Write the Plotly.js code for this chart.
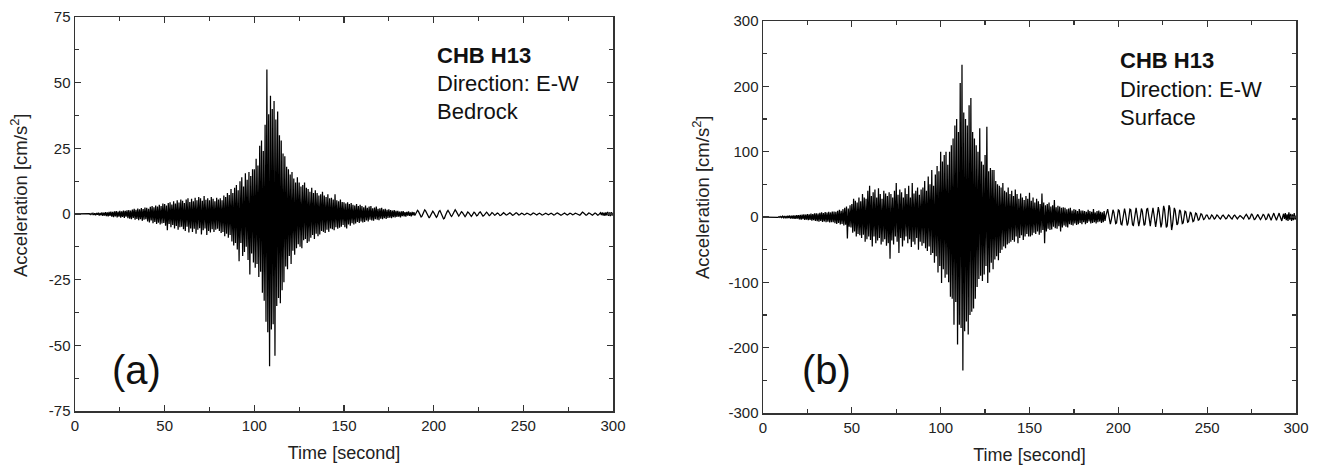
<!DOCTYPE html>
<html>
<head>
<meta charset="utf-8">
<script src="https://cdn.plot.ly/plotly-3.0.1.min.js"></script>
<style>html,body{margin:0;padding:0;background:#fff;}#chart{width:1321px;height:471px;}</style>
</head>
<body>
<div id="chart"></div>
<script>
// Sampling of both records (seconds)
const timeStart = 0;
const timeStep = 0.5;

// (a) Bedrock, E-W acceleration [cm/s^2], every 0.5 s
const accBedrock = [
0,0,0,0,0,0,0,0,0,0,0,0,0.1,-0.1,0.1,-0.1,0.1,-0.2,0.2,-0.2,
0.3,-0.4,0.3,-0.5,0.4,-0.3,0.5,-0.6,0.4,-0.5,0.6,-0.7,0.5,-0.6,0.7,-0.8,0.6,-0.9,0.8,-0.7,
0.9,-1.0,0.8,-1.2,1.0,-0.9,1.1,-1.3,0.9,-1.0,1.2,-1.4,1.0,-1.1,1.3,-1.5,1.2,-1.0,1.4,-1.6,
1.5,-1.8,1.3,-2.0,1.7,-1.5,2.0,-2.2,1.6,-1.9,2.1,-2.4,1.8,-2.0,2.3,-2.6,1.9,-2.2,2.5,-2.0,
2.4,-2.8,2.0,-3.2,2.7,-2.5,3.0,-3.5,2.6,-3.0,3.2,-3.8,2.8,-3.3,3.5,-4.0,3.0,-3.6,4.0,-3.4,
3.8,-4.5,3.2,-6.2,4.2,-3.8,4.5,-5.0,3.6,-4.2,4.8,-5.5,4.0,-4.6,5.2,-6.0,4.4,-5.0,5.5,-4.8,
5.0,-5.8,4.2,-6.5,5.5,-4.8,6.0,-7.0,4.6,-5.5,5.8,-6.8,4.8,-5.6,6.2,-7.5,5.2,-6.0,6.5,-5.4,
6.0,-7.8,5.0,-6.2,6.8,-5.5,5.4,-8.0,6.0,-6.5,5.2,-7.0,6.5,-5.8,5.8,-6.8,4.8,-6.0,6.2,-5.6,
5.5,-6.5,6.0,-7.2,5.2,-6.8,7.0,-8.5,6.5,-7.5,8.0,-9.0,7.2,-8.0,9.5,-10.5,8.0,-12.0,10.0,-11.0,
11.0,-13.5,9.0,-18.0,12.5,-11.0,14.0,-16.0,10.5,-14.5,15.5,-12.5,13.0,-17.5,16.0,-23.0,14.5,-15.0,17.0,-18.5,
17.0,-20.5,21.0,-19.0,18.5,-24.0,26.0,-22.0,28.0,-30.0,24.0,-33.0,34.0,-41.0,55.0,-45.0,38.0,-58.0,45.0,-44.0,
40.0,-42.0,43.0,-54.0,36.0,-35.0,39.0,-32.0,30.0,-34.0,28.0,-29.0,23.0,-26.0,22.0,-20.0,18.0,-21.0,17.0,-16.0,
15.0,-19.0,16.0,-14.0,13.5,-15.5,12.0,-13.0,14.0,-11.5,12.0,-12.5,10.5,-13.0,11.0,-10.0,12.0,-9.5,10.0,-11.0,
9.5,-10.5,8.5,-9.0,10.0,-8.0,8.0,-9.5,9.0,-7.5,8.0,-8.5,7.0,-7.8,7.5,-6.5,8.5,-6.8,7.0,-7.2,
6.5,-6.0,7.5,-6.8,6.0,-5.5,6.2,-5.8,5.5,-6.2,7.5,-5.0,5.2,-5.6,4.8,-5.2,5.5,-4.8,4.6,-4.2,
4.5,-5.0,4.0,-5.5,4.5,-4.0,3.8,-4.5,4.2,-3.5,3.5,-4.0,3.2,-3.6,3.8,-3.0,3.0,-3.4,3.5,-2.8,
3.0,-3.2,2.6,-3.0,3.2,-2.5,2.4,-2.8,2.8,-2.2,3.0,-2.5,2.2,-2.6,2.5,-2.0,2.8,-2.2,2.0,-2.4,
2.2,-1.8,2.4,-2.0,1.8,-1.6,2.0,-1.9,1.6,-1.5,1.8,-1.4,1.5,-1.6,1.3,-1.2,1.5,-1.3,1.2,-1.1,
1.2,-1.0,0.9,-1.3,1.0,-0.8,1.1,-0.9,0.7,-1.0,0.8,-0.6,1.0,-0.7,0.6,-0.9,0.8,-0.5,0.7,-0.6,
0.2,0.8,1.4,1.0,0.3,-0.6,-1.1,-0.8,0.1,0.9,1.6,1.2,0.4,-0.5,-1.2,-1.5,-0.9,0.0,0.7,1.1,
0.6,-0.2,-0.9,-1.3,-0.8,0.2,1.0,1.3,0.7,-0.3,-1.0,-1.8,-1.6,-0.7,0.3,0.9,1.4,1.0,0.2,-0.5,
-0.9,-0.4,0.5,1.2,1.6,1.1,0.3,-0.4,-0.8,-0.3,0.4,0.9,0.6,-0.1,-0.7,-1.0,-0.5,0.3,0.8,0.5,
-0.1,-0.6,-0.9,-0.4,0.3,0.7,0.4,-0.2,-0.7,-0.5,0.2,0.6,0.8,0.3,-0.3,-0.8,-0.6,0.0,0.5,0.7,
0.3,-0.2,-0.6,-0.4,0.1,0.5,0.3,-0.2,-0.5,-0.3,0.2,0.4,0.2,-0.3,-0.6,-0.5,-0.1,0.3,0.5,0.2,
-0.2,-0.4,-0.3,0.1,0.4,0.5,0.2,-0.3,-0.5,-0.4,0.0,0.3,0.5,0.3,-0.1,-0.4,-0.3,0.1,0.3,0.2,
-0.1,-0.3,-0.2,0.1,0.3,0.2,-0.1,-0.3,-0.4,-0.2,0.2,0.4,0.3,0.0,-0.3,-0.4,-0.1,0.2,0.3,0.1,
-0.2,-0.4,-0.3,0.0,0.2,0.3,0.1,-0.2,-0.3,-0.1,0.2,0.3,0.1,-0.2,-0.4,-0.3,0.1,0.3,0.4,0.2,
-0.1,-0.3,-0.5,-0.3,0.0,0.3,0.4,0.1,-0.2,-0.4,-0.2,0.1,0.3,0.2,-0.1,-0.3,-0.2,0.1,0.3,0.2,
0.0,-0.3,-0.6,-0.5,-0.1,0.4,0.7,0.5,0.1,-0.3,-0.5,-0.3,0.1,0.4,0.3,-0.1,-0.4,-0.5,-0.2,0.2,
0.4,0.2,-0.2,-0.5,-0.3,0.2,0.5,-0.4,0.6,-0.6,0.5,-0.7,0.6,-0.5,0.8,-0.7,0.6,-0.8,0.7,-0.6,
0.5
];

// (b) Surface, E-W acceleration [cm/s^2], every 0.5 s
const accSurface = [
0,0,0,0,0,0,0,0,0,0,0,0,0.3,-0.3,0.4,-0.4,0.5,-0.6,0.6,-0.7,
0.8,-1.0,1.2,-1.0,1.5,-1.8,1.4,-2.0,1.8,-1.5,2.2,-2.5,2.0,-2.3,2.6,-2.8,2.4,-3.0,2.8,-2.6,
3.0,-3.5,3.2,-4.0,3.8,-3.4,4.2,-4.6,3.6,-4.0,4.5,-5.0,4.0,-4.4,5.2,-5.5,4.6,-5.0,5.5,-6.0,
5.8,-6.5,5.2,-7.0,6.5,-6.0,7.2,-7.5,6.0,-6.8,7.5,-8.0,6.8,-7.2,8.0,-8.5,7.0,-7.8,8.5,-8.0,
8.5,-9.5,8.0,-10.5,9.5,-9.0,11.0,-11.5,9.5,-10.5,12.0,-13.0,14.0,-12.0,16.0,-33.0,13.0,-15.0,18.0,-16.0,
20.0,-24.0,28.0,-22.0,25.0,-30.0,22.0,-26.0,30.0,-28.0,24.0,-32.0,35.0,-27.0,30.0,-38.0,28.0,-34.0,40.0,-30.0,
48.0,-35.0,32.0,-45.0,38.0,-30.0,42.0,-40.0,30.0,-36.0,44.0,-32.0,35.0,-42.0,28.0,-38.0,40.0,-34.0,36.0,-44.0,
32.0,-40.0,38.0,-64.0,35.0,-36.0,30.0,-42.0,40.0,-30.0,52.0,-38.0,34.0,-55.0,42.0,-32.0,38.0,-45.0,30.0,-36.0,
44.0,-30.0,35.0,-40.0,48.0,-34.0,30.0,-46.0,52.0,-38.0,36.0,-42.0,40.0,-32.0,45.0,-50.0,34.0,-38.0,42.0,-44.0,
45.0,-40.0,55.0,-48.0,40.0,-52.0,62.0,-45.0,50.0,-58.0,72.0,-55.0,48.0,-70.0,65.0,-60.0,78.0,-85.0,70.0,-75.0,
100.0,-101.0,85.0,-80.0,95.0,-93.0,100.0,-88.0,80.0,-100.0,100.0,-122.0,110.0,-125.0,120.0,-165.0,140.0,-130.0,150.0,-195.0,
130.0,-165.0,205.0,-170.0,233.0,-235.0,160.0,-175.0,150.0,-160.0,140.0,-180.0,171.0,-150.0,182.0,-145.0,130.0,-140.0,120.0,-125.0,
110.0,-107.0,100.0,-95.0,136.0,-90.0,85.0,-98.0,80.0,-88.0,95.0,-75.0,138.0,-101.0,70.0,-85.0,75.0,-70.0,72.0,-80.0,
72.0,-65.0,55.0,-60.0,50.0,-66.0,48.0,-55.0,45.0,-50.0,52.0,-45.0,40.0,-48.0,38.0,-42.0,45.0,-40.0,35.0,-38.0,
40.0,-35.0,32.0,-38.0,42.0,-30.0,35.0,-40.0,28.0,-32.0,36.0,-28.0,30.0,-35.0,26.0,-30.0,32.0,-26.0,28.0,-30.0,
37.0,-30.0,25.0,-28.0,30.0,-24.0,22.0,-26.0,28.0,-22.0,24.0,-27.0,20.0,-24.0,36.0,-20.0,22.0,-40.0,18.0,-22.0,
20.0,-18.0,22.0,-20.0,16.0,-19.0,18.0,-15.0,26.0,-17.0,15.0,-18.0,17.0,-14.0,16.0,-22.0,14.0,-16.0,15.0,-13.0,
14.0,-15.0,12.0,-16.0,13.0,-11.0,14.0,-12.0,10.0,-13.0,12.0,-10.0,11.0,-12.0,9.0,-11.0,12.0,-9.0,10.0,-11.0,
10.0,-8.0,9.0,-11.0,8.0,-9.0,11.0,-7.0,9.0,-10.0,8.0,-9.0,12.0,-8.0,7.0,-10.0,9.0,-8.0,10.0,-7.0,
8.0,-9.0,7.0,-8.0,9.0,-6.0,2.0,10.0,12.0,4.0,-8.0,-11.0,-5.0,6.0,11.0,7.0,-4.0,-10.0,-9.0,2.0,
11.0,10.0,-2.0,-11.0,-12.0,-3.0,9.0,13.0,6.0,-6.0,-13.0,-9.0,3.0,12.0,11.0,-1.0,-12.0,-13.0,-2.0,10.0,
14.0,5.0,-8.0,-14.0,-7.0,6.0,13.0,9.0,-4.0,-13.0,-11.0,2.0,12.0,13.0,1.0,-12.0,-14.0,-3.0,10.0,14.0,
5.0,-9.0,-15.0,-6.0,8.0,15.0,8.0,-7.0,-16.0,-10.0,5.0,17.0,12.0,-4.0,-16.0,-14.0,2.0,18.0,14.0,-5.0,
-20.0,-12.0,4.0,14.0,10.0,-3.0,-12.0,-10.0,2.0,11.0,9.0,-2.0,-10.0,-9.0,1.0,9.0,8.0,-2.0,-8.0,-7.0,
1.0,7.0,6.0,-1.0,-7.0,-6.0,0.0,6.0,5.0,-1.0,-5.0,-4.0,1.0,5.0,4.0,-1.0,-4.0,-3.0,1.0,3.0,
3.0,0.0,-3.0,-3.0,0.0,3.0,2.0,-1.0,-3.0,-2.0,1.0,3.0,2.0,-1.0,-2.0,-3.0,0.0,2.0,3.0,1.0,
-1.0,-3.0,-2.0,1.0,3.0,2.0,-1.0,-2.0,-3.0,0.0,2.0,3.0,1.0,-2.0,-3.0,-1.0,1.0,2.0,1.0,-1.0,
-2.0,-3.0,0.0,2.0,4.0,2.0,-1.0,-3.0,-2.0,1.0,5.0,3.0,-1.0,-4.0,-3.0,0.0,3.0,4.0,1.0,-2.0,
-4.0,-2.0,1.0,4.0,3.0,-1.0,-4.0,-3.0,1.0,5.0,2.0,-2.0,-5.0,-1.0,3.0,6.0,2.0,-3.0,-5.0,-1.0,
4.0,6.0,1.0,-4.0,-6.0,0.0,5.0,-3.0,6.0,-5.0,4.0,-6.0,7.0,-4.0,5.0,-6.0,4.0,-5.0,6.0,-4.0,
2.0
];

// Tick positions and labels (hyphen minus as in the original)
const timeTicks = [0, 50, 100, 150, 200, 250, 300];
const timeTickLabels = ["0", "50", "100", "150", "200", "250", "300"];
const accTicksA = [-75, -50, -25, 0, 25, 50, 75];
const accTickLabelsA = ["-75", "-50", "-25", "0", "25", "50", "75"];
const accTicksB = [-300, -200, -100, 0, 100, 200, 300];
const accTickLabelsB = ["-300", "-200", "-100", "0", "100", "200", "300"];

// Text labels
const stationLabel = "CHB H13";
const directionLabel = "Direction: E-W";
const siteLabels = ["Bedrock", "Surface"];
const panelLabels = ["(a)", "(b)"];
const xTitle = "Time [second]";
const yTitle = "Acceleration [cm/s<sup>2</sup>]";

const FONT = "Arial, 'Liberation Sans', Helvetica, sans-serif";
const AX = "#333";

function xAxis(domain, anchor) {
  return {
    domain: domain, anchor: anchor, range: [0, 300],
    tickmode: "array", tickvals: timeTicks, ticktext: timeTickLabels,
    ticks: "inside", ticklen: 6, tickwidth: 1.3, tickcolor: AX,
    minor: {tick0: 0, dtick: 25, ticks: "inside", ticklen: 4, tickwidth: 1.2, tickcolor: AX},
    showline: true, linecolor: AX, linewidth: 1.5, mirror: "ticks",
    showgrid: false, zeroline: false,
    tickfont: {family: FONT, size: 15, color: "#222"},
    title: {text: xTitle, font: {family: FONT, size: 18, color: "#222"}, standoff: 14}
  };
}
function yAxis(domain, anchor, lim, vals, labels, minor) {
  return {
    domain: domain, anchor: anchor, range: [-lim, lim],
    tickmode: "array", tickvals: vals, ticktext: labels,
    ticks: "inside", ticklen: 6, tickwidth: 1.3, tickcolor: AX,
    minor: {tick0: 0, dtick: minor, ticks: "inside", ticklen: 4, tickwidth: 1.2, tickcolor: AX},
    showline: true, linecolor: AX, linewidth: 1.5, mirror: "ticks",
    showgrid: false, zeroline: false,
    tickfont: {family: FONT, size: 15, color: "#222"}
  };
}

const traces = [
  {type: "scatter", mode: "lines", x0: timeStart, dx: timeStep, y: accBedrock,
   xaxis: "x", yaxis: "y", line: {color: "#000", width: 1.25}, hoverinfo: "skip"},
  {type: "scatter", mode: "lines", x0: timeStart, dx: timeStep, y: accSurface,
   xaxis: "x2", yaxis: "y2", line: {color: "#000", width: 1.25}, hoverinfo: "skip"}
];

function textAnn(xref, yref, x, y, text, size, bold) {
  return {xref: xref, yref: yref, x: x, y: y, text: bold ? "<b>" + text + "</b>" : text,
    showarrow: false, xanchor: "left", yanchor: "middle", align: "left",
    font: {family: FONT, size: size, color: "#111"}};
}
function yTitleAnn(xPix, yPix) {
  return {xref: "paper", yref: "paper", x: xPix / 1321, y: 1 - yPix / 471,
    text: yTitle, textangle: -90, showarrow: false, xanchor: "center", yanchor: "middle",
    font: {family: FONT, size: 18.5, color: "#222"}};
}

const annotations = [
  textAnn("x", "y", 201, 60.5, stationLabel, 22, true),
  textAnn("x", "y", 201, 49.5, directionLabel, 22, false),
  textAnn("x", "y", 201, 39, siteLabels[0], 22, false),
  textAnn("x2", "y2", 200, 239, stationLabel, 22, true),
  textAnn("x2", "y2", 200, 195, directionLabel, 22, false),
  textAnn("x2", "y2", 200, 152, siteLabels[1], 22, false),
  Object.assign(textAnn("x", "y", 34.5, -59.5, panelLabels[0], 40, false), {xanchor: "center"}),
  Object.assign(textAnn("x2", "y2", 36, -234, panelLabels[1], 40, false), {xanchor: "center"}),
  yTitleAnn(19, 196),
  yTitleAnn(701, 198)
];

const layout = {
  width: 1321, height: 471,
  margin: {l: 0, r: 0, t: 0, b: 0},
  paper_bgcolor: "#fff", plot_bgcolor: "#fff",
  showlegend: false,
  xaxis: xAxis([75/1321, 613/1321], "y"),
  yaxis: yAxis([60/471, 454/471], "x", 75, accTicksA, accTickLabelsA, 12.5),
  xaxis2: xAxis([763/1321, 1296/1321], "y2"),
  yaxis2: yAxis([58/471, 450/471], "x2", 300, accTicksB, accTickLabelsB, 50),
  annotations: annotations
};

Plotly.newPlot("chart", traces, layout, {staticPlot: true, displayModeBar: false});
</script>
</body>
</html>
